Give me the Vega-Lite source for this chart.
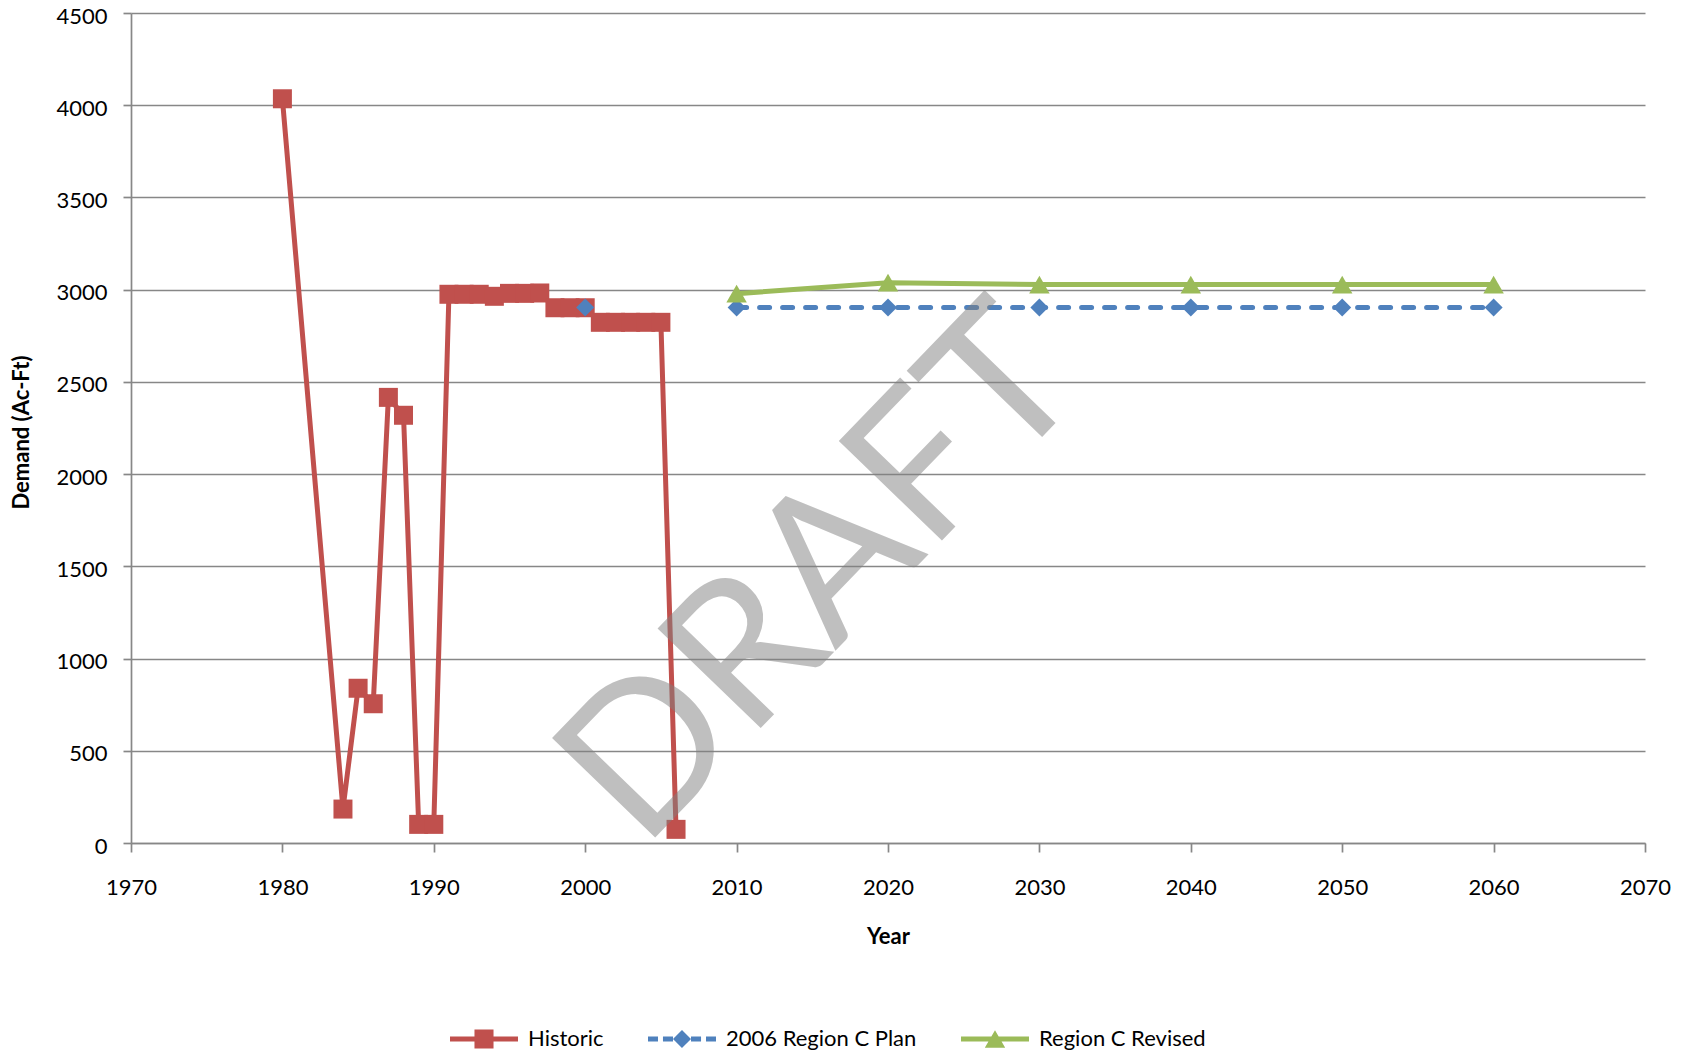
{
  "$schema": "https://vega.github.io/schema/vega-lite/v6.json",
  "width": 1514,
  "height": 830,
  "autosize": {"type": "none"},
  "padding": {"left": 131, "top": 13, "right": 45, "bottom": 212},
  "background": "white",
  "config": {
    "view": {"stroke": null},
    "font": "Lato",
    "axis": {
      "labelFont": "Lato",
      "labelFontSize": 22,
      "labelColor": "#000000",
      "titleFont": "Lato",
      "titleFontSize": 22,
      "titleFontWeight": "bold",
      "titleColor": "#000000",
      "domainColor": "#878787",
      "domainWidth": 1.7,
      "tickColor": "#878787",
      "tickWidth": 1.7,
      "gridColor": "#878787",
      "gridWidth": 1.7
    }
  },
  "data": {
    "values": [
      {"series": "Historic", "year": 1980, "demand": 4035},
      {"series": "Historic", "year": 1984, "demand": 184},
      {"series": "Historic", "year": 1985, "demand": 839},
      {"series": "Historic", "year": 1986, "demand": 755},
      {"series": "Historic", "year": 1987, "demand": 2416},
      {"series": "Historic", "year": 1988, "demand": 2319},
      {"series": "Historic", "year": 1989, "demand": 101},
      {"series": "Historic", "year": 1990, "demand": 101},
      {"series": "Historic", "year": 1991, "demand": 2975},
      {"series": "Historic", "year": 1992, "demand": 2975},
      {"series": "Historic", "year": 1993, "demand": 2975},
      {"series": "Historic", "year": 1994, "demand": 2964},
      {"series": "Historic", "year": 1995, "demand": 2980},
      {"series": "Historic", "year": 1996, "demand": 2980},
      {"series": "Historic", "year": 1997, "demand": 2982},
      {"series": "Historic", "year": 1998, "demand": 2902},
      {"series": "Historic", "year": 1999, "demand": 2902},
      {"series": "Historic", "year": 2000, "demand": 2902},
      {"series": "Historic", "year": 2001, "demand": 2823},
      {"series": "Historic", "year": 2002, "demand": 2823},
      {"series": "Historic", "year": 2003, "demand": 2823},
      {"series": "Historic", "year": 2004, "demand": 2823},
      {"series": "Historic", "year": 2005, "demand": 2823},
      {"series": "Historic", "year": 2006, "demand": 74},
      {"series": "2006 Region C Plan", "year": 2000, "demand": 2903},
      {"series": "2006 Region C Plan", "year": 2010, "demand": 2903},
      {"series": "2006 Region C Plan", "year": 2020, "demand": 2903},
      {"series": "2006 Region C Plan", "year": 2030, "demand": 2903},
      {"series": "2006 Region C Plan", "year": 2040, "demand": 2903},
      {"series": "2006 Region C Plan", "year": 2050, "demand": 2903},
      {"series": "2006 Region C Plan", "year": 2060, "demand": 2903},
      {"series": "Region C Revised", "year": 2010, "demand": 2978},
      {"series": "Region C Revised", "year": 2020, "demand": 3038},
      {"series": "Region C Revised", "year": 2030, "demand": 3028},
      {"series": "Region C Revised", "year": 2040, "demand": 3028},
      {"series": "Region C Revised", "year": 2050, "demand": 3028},
      {"series": "Region C Revised", "year": 2060, "demand": 3028}
    ]
  },
  "encoding": {
    "x": {
      "field": "year",
      "type": "quantitative",
      "scale": {"domain": [1970, 2070], "nice": false, "zero": false},
      "axis": {
        "title": "Year",
        "values": [1970, 1980, 1990, 2000, 2010, 2020, 2030, 2040, 2050, 2060, 2070],
        "format": "d",
        "grid": false,
        "tickSize": 9,
        "labelPadding": 25,
        "labelFlush": false,
        "labelOverlap": false,
        "titleX": 757,
        "titleY": 93,
        "titleBaseline": "middle",
        "titleAlign": "center"
      }
    },
    "y": {
      "field": "demand",
      "type": "quantitative",
      "scale": {"domain": [0, 4500], "nice": false},
      "axis": {
        "title": "Demand (Ac-Ft)",
        "values": [0, 500, 1000, 1500, 2000, 2500, 3000, 3500, 4000, 4500],
        "format": "d",
        "grid": true,
        "tickSize": 8,
        "labelPadding": 16,
        "labelOffset": 3,
        "labelFlush": false,
        "labelOverlap": false,
        "titleX": -110,
        "titleY": 419,
        "titleAngle": -90,
        "titleBaseline": "middle",
        "titleAlign": "center"
      }
    }
  },
  "layer": [
    {
      "transform": [{"filter": "datum.series !== '2006 Region C Plan'"}],
      "mark": {"type": "line", "strokeWidth": 5, "strokeCap": "round", "strokeJoin": "round"},
      "encoding": {
        "color": {
          "field": "series",
          "type": "nominal",
          "scale": {
            "domain": ["Historic", "2006 Region C Plan", "Region C Revised"],
            "range": ["#C0504D", "#4F81BD", "#9BBB59"]
          },
          "legend": {
            "orient": "none",
            "legendX": 319,
            "legendY": 992,
            "direction": "horizontal",
            "title": null,
            "labelFont": "Lato",
            "labelFontSize": 22,
            "labelColor": "#000000",
            "labelLimit": 500,
            "labelOffset": 10,
            "columnPadding": 44,
            "symbolSize": 4624,
            "encode": {
              "symbols": {
                "update": {
                  "shape": {"signal": "datum.value === 'Historic' ? 'M-1,-0.075H1V0.075H-1ZM-0.28,-0.28H0.28V0.28H-0.28Z' : (datum.value === '2006 Region C Plan' ? 'M-1,-0.075H-0.706V0.075H-1ZM-0.56,-0.075H-0.265V0.075H-0.56ZM0.265,-0.075H0.56V0.075H0.265ZM0.706,-0.075H1V0.075H0.706ZM-0.265,0L0,-0.265L0.265,0L0,0.265Z' : 'M-1,-0.075H1V0.075H-1ZM0,-0.26L0.3,0.26L-0.3,0.26Z')"},
                  "fill": {"signal": "scale('color', datum.value)"},
                  "strokeWidth": {"value": 0},
                  "opacity": {"value": 1},
                  "size": {"value": 4624}
                }
              }
            }
          }
        }
      }
    },
    {
      "transform": [{"filter": "datum.series === '2006 Region C Plan' && datum.year >= 2010"}],
      "mark": {"type": "line", "color": "#4F81BD", "strokeWidth": 5, "strokeCap": "round", "strokeJoin": "round", "strokeDash": [10, 13]},
      "encoding": {}
    },
    {
      "transform": [{"filter": "datum.series === 'Historic'"}],
      "mark": {"type": "point", "shape": "square", "size": 361, "filled": true, "opacity": 1, "strokeWidth": 0, "color": "#C0504D"},
      "encoding": {}
    },
    {
      "transform": [{"filter": "datum.series === '2006 Region C Plan'"}],
      "mark": {"type": "point", "shape": "diamond", "size": 324, "filled": true, "opacity": 1, "strokeWidth": 0, "color": "#4F81BD"},
      "encoding": {}
    },
    {
      "transform": [{"filter": "datum.series === 'Region C Revised'"}],
      "mark": {"type": "point", "shape": "triangle-up", "size": 420, "filled": true, "opacity": 1, "strokeWidth": 0, "color": "#9BBB59"},
      "encoding": {}
    },
    {
      "transform": [{"filter": "datum.series === 'Historic' && datum.year === 1980"}],
      "mark": {
        "type": "text",
        "text": "DRAFT",
        "angle": 314,
        "font": "Lato",
        "fontSize": 200,
        "fill": "#808080",
        "fillOpacity": 0.5,
        "align": "center",
        "baseline": "middle"
      },
      "encoding": {
        "x": {"datum": 2015.7, "type": "quantitative"},
        "y": {"datum": 1440, "type": "quantitative"}
      }
    }
  ]
}
